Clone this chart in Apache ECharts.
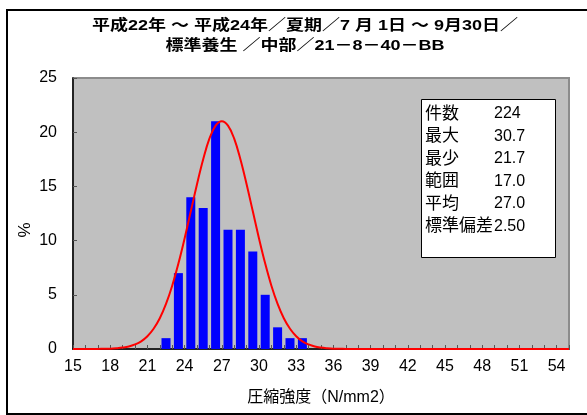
<!DOCTYPE html>
<html>
<head>
<meta charset="utf-8">
<script src="https://cdn.jsdelivr.net/npm/echarts@6/dist/echarts.min.js"></script>
<style>
html,body{margin:0;padding:0;background:#fff;}
#c{width:587px;height:415px;}
</style>
</head>
<body>
<div id="c"></div>
<script>
// ---- data ----
var titleLines = ['平成22年 ～ 平成24年／夏期／7 月 1日 ～ 9月30日／', '標準養生 ／中部／21－8－40－BB'];
var binCenters = [22.5, 23.5, 24.5, 25.5, 26.5, 27.5, 28.5, 29.5, 30.5, 31.5, 32.5, 33.5];
var binPercent = [1, 7, 14, 13, 21, 11, 11, 9, 5, 2, 1, 1];
var curveX = [15,16,17,17.5,18,18.5,19,19.5,20,20.5,21,21.5,22,22.5,23,23.5,24,24.5,25,25.5,26,26.5,27,27.5,28,28.5,29,29.5,30,30.5,31,31.5,32,32.5,33,33.5,34,34.5,35,35.5,36,36.5,37,38,40,45,50,55];
var curveY = [0,0,0.01,0.02,0.03,0.07,0.13,0.23,0.42,0.71,1.18,1.87,2.84,4.16,5.84,7.88,10.2,12.7,15.2,17.5,19.4,20.6,21,20.6,19.4,17.5,15.2,12.7,10.2,7.88,5.84,4.16,2.84,1.87,1.18,0.71,0.42,0.23,0.13,0.07,0.03,0.02,0.01,0,0,0,0,0];
var statLabels = ['件数', '最大', '最少', '範囲', '平均', '標準偏差'];
var statValues = ['224', '30.7', '21.7', '17.0', '27.0', '2.50'];
var xName = '圧縮強度（N/mm2）';
var yName = '%';

var FONT = '"Liberation Sans", "Noto Sans CJK JP", sans-serif';

var chart = echarts.init(document.getElementById('c'), null, {renderer: 'canvas'});

var graphics = [];
// outer chart border
graphics.push({type: 'rect', z: 0, silent: true,
  shape: {x: 7, y: 10, width: 640, height: 404},
  style: {fill: 'none', stroke: '#000', lineWidth: 2}});
// title
titleLines.forEach(function (t, i) {
  graphics.push({type: 'text', z: 10, x: 305, y: 26 + i * 20, scaleX: 1.2,
    style: {text: t, x: 0, y: 0, align: 'center', verticalAlign: 'middle',
      font: 'bold 15px ' + FONT, fill: '#000'}});
});
// y axis title (placed like the original, below the plot's middle)
graphics.push({type: 'text', z: 10, x: 25, y: 230, rotation: Math.PI / 2,
  style: {text: yName, x: 0, y: 0, align: 'center', verticalAlign: 'middle',
    font: '17px ' + FONT, fill: '#000'}});
// stats box
graphics.push({type: 'rect', z: 10, silent: true,
  shape: {x: 421.5, y: 99.5, width: 134, height: 158},
  style: {fill: '#fff', stroke: '#000', lineWidth: 1}});
statLabels.forEach(function (l, i) {
  graphics.push({type: 'text', z: 11,
    style: {text: l, x: 425, y: 114 + i * 22.5, verticalAlign: 'middle',
      font: '17px ' + FONT, fill: '#000'}});
  graphics.push({type: 'text', z: 11,
    style: {text: statValues[i], x: 494, y: 114 + i * 22.5, verticalAlign: 'middle',
      font: '16px ' + FONT, fill: '#000'}});
});

var option = {
  animation: false,
  backgroundColor: '#fff',
  textStyle: {fontFamily: FONT},
  grid: {left: 73, right: 18, top: 78, bottom: 66, show: true,
    backgroundColor: '#C0C0C0', borderColor: '#8C8C8C', borderWidth: 2},
  xAxis: {
    type: 'value', min: 15, max: 55, interval: 1,
    name: xName, nameLocation: 'middle', nameGap: 41, nameMoveOverlap: false,
    nameTextStyle: {fontSize: 16, color: '#000', fontFamily: FONT},
    axisLine: {show: true, onZero: false, lineStyle: {color: '#000', width: 1.5}},
    axisTick: {show: true, inside: true, length: 4, lineStyle: {color: '#555'}},
    splitLine: {show: false},
    axisLabel: {fontSize: 16, color: '#000', margin: 10, fontFamily: FONT,
      formatter: function (v) { return ((v - 15) % 3 === 0 && v < 55) ? String(v) : ''; }}
  },
  yAxis: {
    type: 'value', min: 0, max: 25, interval: 5,
    axisLine: {show: true, lineStyle: {color: '#000', width: 1.5}},
    axisTick: {show: true, inside: true, length: 4, lineStyle: {color: '#555'}},
    splitLine: {show: false},
    axisLabel: {fontSize: 16, color: '#000', margin: 16, fontFamily: FONT}
  },
  series: [
    {type: 'bar', barWidth: 9, z: 2,
      itemStyle: {color: '#0000FF'},
      data: binCenters.map(function (x, i) { return [x, binPercent[i]]; })},
    {type: 'line', z: 5, symbol: 'none', smooth: 0.4,
      lineStyle: {color: '#FF0000', width: 2},
      data: curveX.map(function (x, i) { return [x, curveY[i]]; })}
  ],
  graphic: graphics
};
chart.setOption(option);
</script>
</body>
</html>
